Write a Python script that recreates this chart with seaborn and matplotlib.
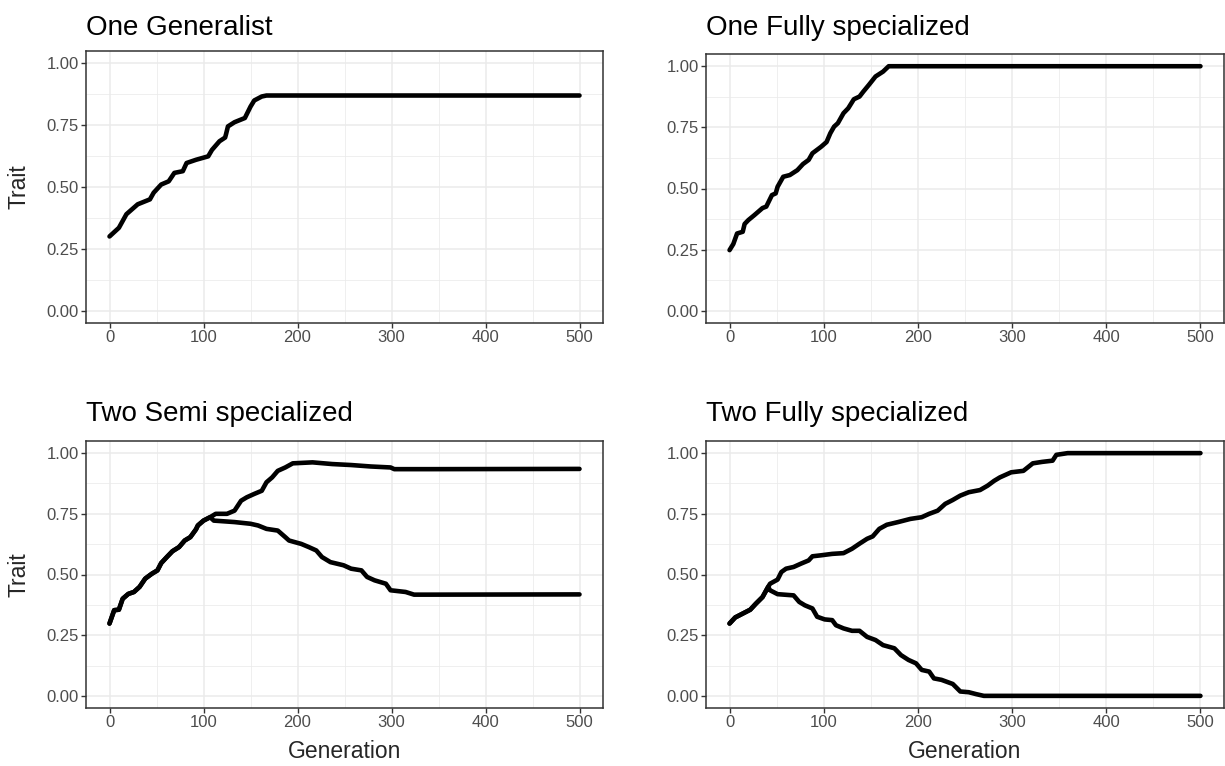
import seaborn as sns
import matplotlib.pyplot as plt
import pandas as pd

# ---- data (generation, trait) ----
one_gen_x = [0, 10, 18, 30, 43, 47, 55, 63, 69, 78, 82, 92, 105, 109, 117, 123, 124,
             126, 133, 144, 150, 154, 162, 167, 500]
one_gen_y = [0.30, 0.335, 0.39, 0.43, 0.45, 0.477, 0.51, 0.523, 0.557, 0.564, 0.597, 0.61,
             0.624, 0.65, 0.685, 0.70, 0.714, 0.745, 0.762, 0.779, 0.825, 0.85, 0.866, 0.87, 0.87]

one_full_x = [0, 4, 8, 14, 16, 20, 26, 35, 39, 45, 49, 51, 57, 64, 72, 78, 84, 88, 97, 103,
              107, 111, 115, 121, 126, 132, 138, 142, 148, 155, 163, 169, 500]
one_full_y = [0.248, 0.273, 0.316, 0.323, 0.355, 0.371, 0.39, 0.42, 0.426, 0.473, 0.48, 0.507,
              0.548, 0.555, 0.575, 0.60, 0.617, 0.644, 0.67, 0.69, 0.726, 0.753, 0.767, 0.808,
              0.828, 0.865, 0.876, 0.896, 0.924, 0.958, 0.978, 1.0, 1.0]

semi_trunk_x = [0, 5, 10, 14, 20, 26, 32, 38, 45, 51, 55, 61, 67, 74, 80, 86, 92, 94, 100, 107]
semi_trunk_y = [0.298, 0.353, 0.355, 0.40, 0.42, 0.428, 0.449, 0.483, 0.503, 0.517, 0.547,
                0.572, 0.596, 0.613, 0.64, 0.654, 0.686, 0.702, 0.722, 0.736]
semi_up_x = [113, 125, 133, 140, 146, 154, 162, 167, 173, 179, 187, 195, 216, 237, 257, 278,
             299, 303, 340, 500]
semi_up_y = [0.75, 0.75, 0.763, 0.804, 0.818, 0.832, 0.845, 0.88, 0.90, 0.927, 0.941, 0.958,
             0.962, 0.955, 0.951, 0.945, 0.941, 0.934, 0.934, 0.935]
semi_low_x = [111, 133, 150, 158, 167, 179, 187, 191, 204, 212, 220, 226, 235, 249, 257, 268,
              274, 282, 294, 299, 315, 324, 340, 500]
semi_low_y = [0.722, 0.716, 0.709, 0.702, 0.688, 0.681, 0.654, 0.640, 0.626, 0.613, 0.599,
              0.572, 0.551, 0.538, 0.524, 0.517, 0.49, 0.476, 0.462, 0.435, 0.428, 0.417,
              0.417, 0.418]

full_trunk_x = [0, 6, 14, 22, 28, 35, 39, 41]
full_trunk_y = [0.298, 0.323, 0.339, 0.355, 0.38, 0.407, 0.435, 0.449]
full_up_x = [43, 51, 55, 60, 68, 76, 84, 88, 97, 109, 121, 130, 138, 146, 152, 159, 167, 179,
             192, 204, 212, 221, 229, 237, 245, 254, 266, 274, 281, 287, 299, 312, 322, 332,
             343, 347, 359, 500]
full_up_y = [0.462, 0.479, 0.51, 0.524, 0.531, 0.545, 0.558, 0.575, 0.579, 0.585, 0.588, 0.606,
             0.627, 0.647, 0.657, 0.688, 0.705, 0.716, 0.729, 0.736, 0.75, 0.763, 0.791, 0.807,
             0.825, 0.839, 0.848, 0.866, 0.886, 0.90, 0.921, 0.927, 0.958, 0.964, 0.969, 0.993,
             1.0, 1.0]
full_low_x = [43, 51, 68, 74, 80, 88, 93, 101, 109, 113, 121, 130, 138, 146, 155, 163, 175,
              182, 190, 198, 204, 212, 217, 225, 237, 245, 254, 262, 270, 500]
full_low_y = [0.435, 0.419, 0.414, 0.387, 0.373, 0.36, 0.326, 0.315, 0.312, 0.291, 0.278,
              0.268, 0.268, 0.243, 0.230, 0.209, 0.196, 0.168, 0.148, 0.134, 0.107, 0.10,
              0.072, 0.066, 0.049, 0.018, 0.015, 0.007, 0.0, 0.0]

titles = ["One Generalist", "One Fully specialized", "Two Semi specialized", "Two Fully specialized"]


def make_df(*branches):
    rows = []
    for i, (xs, ys) in enumerate(branches):
        for x, y in zip(xs, ys):
            rows.append({"Generation": x, "Trait": y, "branch": i})
    return pd.DataFrame(rows)


panels = [
    make_df((one_gen_x, one_gen_y)),
    make_df((one_full_x, one_full_y)),
    make_df((semi_trunk_x + semi_up_x, semi_trunk_y + semi_up_y),
            (semi_trunk_x + semi_low_x, semi_trunk_y + semi_low_y)),
    make_df((full_trunk_x + full_up_x, full_trunk_y + full_up_y),
            (full_trunk_x + full_low_x, full_trunk_y + full_low_y)),
]

sns.set_theme(style="white")
plt.rcParams['font.family'] = ['Liberation Sans', 'DejaVu Sans']

W, H = 1225, 766
fig = plt.figure(figsize=(W / 100, H / 100), dpi=100)

# axes boxes in pixels: left, top, right, bottom
boxes = [(86, 51, 603, 323), (706, 54, 1224, 323), (86, 441, 603, 708), (706, 441, 1224, 708)]
title_pads = [11.5, 13.7, 14.4, 14.4]

for k, (df, title, (l, t, r, b)) in enumerate(zip(panels, titles, boxes)):
    ax = fig.add_axes([l / W, 1 - b / H, (r - l) / W, (b - t) / H])
    sns.lineplot(data=df, x="Generation", y="Trait", units="branch", estimator=None,
                 color="black", linewidth=3.3, ax=ax, sort=False,
                 solid_capstyle="round", solid_joinstyle="round")
    ax.set_xlim(-25, 525)
    ax.set_ylim(-0.05, 1.05)
    ax.set_xticks([0, 100, 200, 300, 400, 500])
    ax.set_xticks([50, 150, 250, 350, 450], minor=True)
    ax.set_yticks([0, 0.25, 0.5, 0.75, 1.0])
    ax.set_yticklabels(["0.00", "0.25", "0.50", "0.75", "1.00"])
    ax.set_yticks([0.125, 0.375, 0.625, 0.875], minor=True)
    ax.grid(which="major", color="#EBEBEB", linewidth=1.1)
    ax.grid(which="minor", color="#EBEBEB", linewidth=0.55)
    ax.set_axisbelow(True)
    for s in ax.spines.values():
        s.set_color("#333333")
        s.set_linewidth(1.1)
    ax.tick_params(which="major", length=3.3, width=1.0, color="#333333",
                   labelsize=12, labelcolor="#4D4D4D", pad=2,
                   left=True, bottom=True)
    ax.tick_params(which="minor", length=0)
    ax.set_title(title, loc="left", fontsize=20, pad=title_pads[k], color="black")
    if k % 2 == 0:
        ax.set_ylabel("Trait", fontsize=16.5, labelpad=11.5)
    else:
        ax.set_ylabel("")
    if k >= 2:
        ax.set_xlabel("Generation", fontsize=16.5, labelpad=7)
    else:
        ax.set_xlabel("")

fig.savefig("out.png", dpi=100, facecolor="white")
